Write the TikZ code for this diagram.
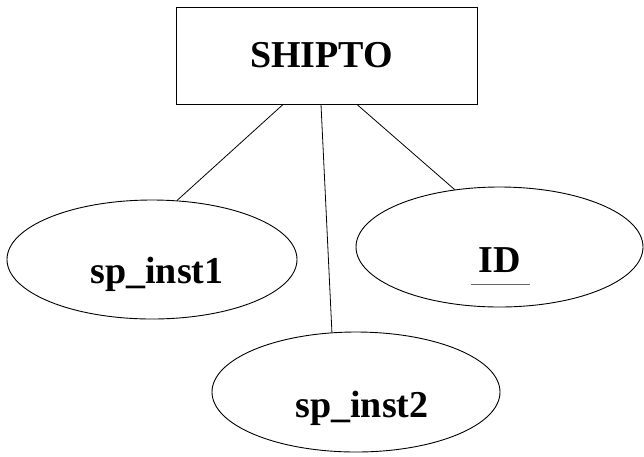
\documentclass[tikz,border=0pt]{standalone}
\usepackage{fontspec}
\setmainfont{Liberation Serif}
\usetikzlibrary{shapes.geometric,calc}

\tikzset{
  entity/.style={rectangle, draw, line width=1pt, inner sep=0pt},
  attr/.style={ellipse, draw, line width=0.9pt, inner sep=0pt},
  lbl/.style={inner sep=0pt, anchor=base, font=\fontsize{38}{40}\selectfont\bfseries},
  link/.style={line width=0.8pt}
}

\begin{document}
\begin{tikzpicture}[x=1pt, y=-1pt]
  \useasboundingbox (0,0) rectangle (644,456);

  % entity and its attributes
  \node[entity, minimum width=301pt, minimum height=97pt] (ship) at (326.5,55.5) {};
  \node[attr, minimum width=290pt, minimum height=119pt] (sp1) at (152,259.5) {};
  \node[attr, minimum width=287pt, minimum height=120pt] (id) at (499.5,247) {};
  \node[attr, minimum width=288pt, minimum height=120pt] (sp2) at (356,392) {};

  % labels
  \node[lbl] (t-ship) at (321.5,67) {SHIPTO};
  \node[lbl] (t-sp1) at (157,283) {sp\_inst1};
  \node[lbl] (t-id) at (500,272) {ID};
  \node[lbl] (t-sp2) at (362,417) {sp\_inst2};

  % key attribute underline
  \coordinate (ul-a) at ($(t-id.base west)+(-8,12)$);
  \coordinate (ul-b) at ($(t-id.base east)+(9,12)$);
  \draw[black!60, line width=1pt] (ul-a) -- (ul-b);

  % connectors
  \coordinate (s1) at ($(ship.south)+(-43.5,0)$);
  \coordinate (s2) at ($(ship.south)+(-5.5,0)$);
  \coordinate (s3) at ($(ship.south)+(30.5,0)$);
  \draw[link] (s1) -- (sp1.67);
  \draw[link] (s2) -- (sp2.112);
  \draw[link] (s3) -- (id.128);
\end{tikzpicture}
\end{document}
